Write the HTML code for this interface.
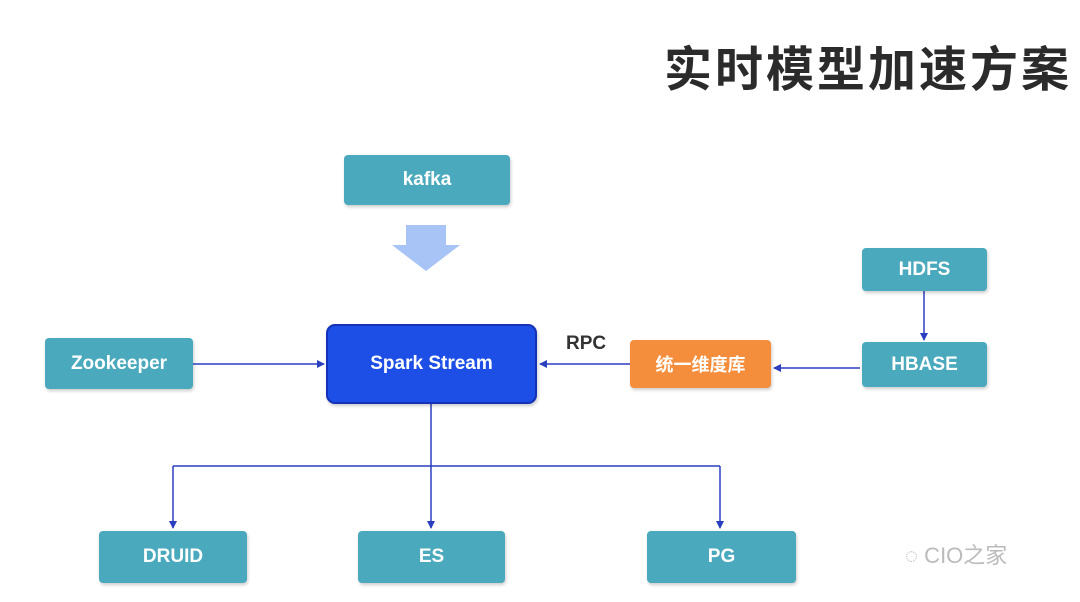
<!DOCTYPE html>
<html><head><meta charset="utf-8"><style>
body{margin:0;width:1080px;height:602px;background:#fff;position:relative;overflow:hidden;font-family:"Liberation Sans","Noto Sans CJK SC",sans-serif}
.b{position:absolute;background:#4aa9bd;color:#fff;font-weight:bold;font-size:19px;display:flex;align-items:center;justify-content:center;border-radius:4px;box-shadow:1px 2px 3px rgba(0,0,0,.2)}
</style></head><body>
<div style="position:absolute;left:664px;top:30px;font-size:48px;font-weight:bold;color:#2b2b2b;font-family:'Noto Sans CJK SC',sans-serif;letter-spacing:3px">实时模型加速方案</div>
<svg width="1080" height="602" style="position:absolute;left:0;top:0">
<defs><marker id="a" markerWidth="8" markerHeight="8" refX="7" refY="4" orient="auto" markerUnits="userSpaceOnUse"><path d="M0,0L8,4L0,8z" fill="#2a3fc0"/></marker></defs>
<g stroke="#2a3fc0" stroke-width="1.5" fill="none">
<line x1="193" y1="364" x2="324" y2="364" marker-end="url(#a)"/>
<line x1="630" y1="364" x2="540" y2="364" marker-end="url(#a)"/>
<line x1="860" y1="368" x2="774" y2="368" marker-end="url(#a)"/>
<line x1="924" y1="291" x2="924" y2="340" marker-end="url(#a)"/>
<line x1="431" y1="404" x2="431" y2="466"/>
<line x1="173" y1="466" x2="720" y2="466"/>
<line x1="173" y1="466" x2="173" y2="528" marker-end="url(#a)"/>
<line x1="431" y1="466" x2="431" y2="528" marker-end="url(#a)"/>
<line x1="720" y1="466" x2="720" y2="528" marker-end="url(#a)"/>
</g>
<path d="M406,225H446V245H460L426,271L392,245H406Z" fill="#a8c3f5"/>
</svg>
<div class="b" style="left:344px;top:155px;width:166px;height:50px">kafka</div>
<div class="b" style="left:45px;top:338px;width:148px;height:51px">Zookeeper</div>
<div class="b" style="left:326px;top:324px;width:207px;height:76px;background:#1d4fe6;border:2px solid #1431b8;border-radius:9px">Spark Stream</div>
<div style="position:absolute;left:566px;top:333px;font-size:19px;font-weight:bold;color:#333">RPC</div>
<div class="b" style="left:630px;top:340px;width:141px;height:48px;background:#f58e3c;font-size:18px;font-family:'Noto Sans CJK SC',sans-serif">统一维度库</div>
<div class="b" style="left:862px;top:248px;width:125px;height:43px">HDFS</div>
<div class="b" style="left:862px;top:342px;width:125px;height:45px">HBASE</div>
<div class="b" style="left:99px;top:531px;width:148px;height:52px">DRUID</div>
<div class="b" style="left:358px;top:531px;width:147px;height:52px">ES</div>
<div class="b" style="left:647px;top:531px;width:149px;height:52px">PG</div>
<div style="position:absolute;left:905px;top:538px;font-size:22px;color:#bbb;font-family:'Liberation Sans','Noto Sans CJK SC',sans-serif">◌ CIO之家</div>
</body></html>
